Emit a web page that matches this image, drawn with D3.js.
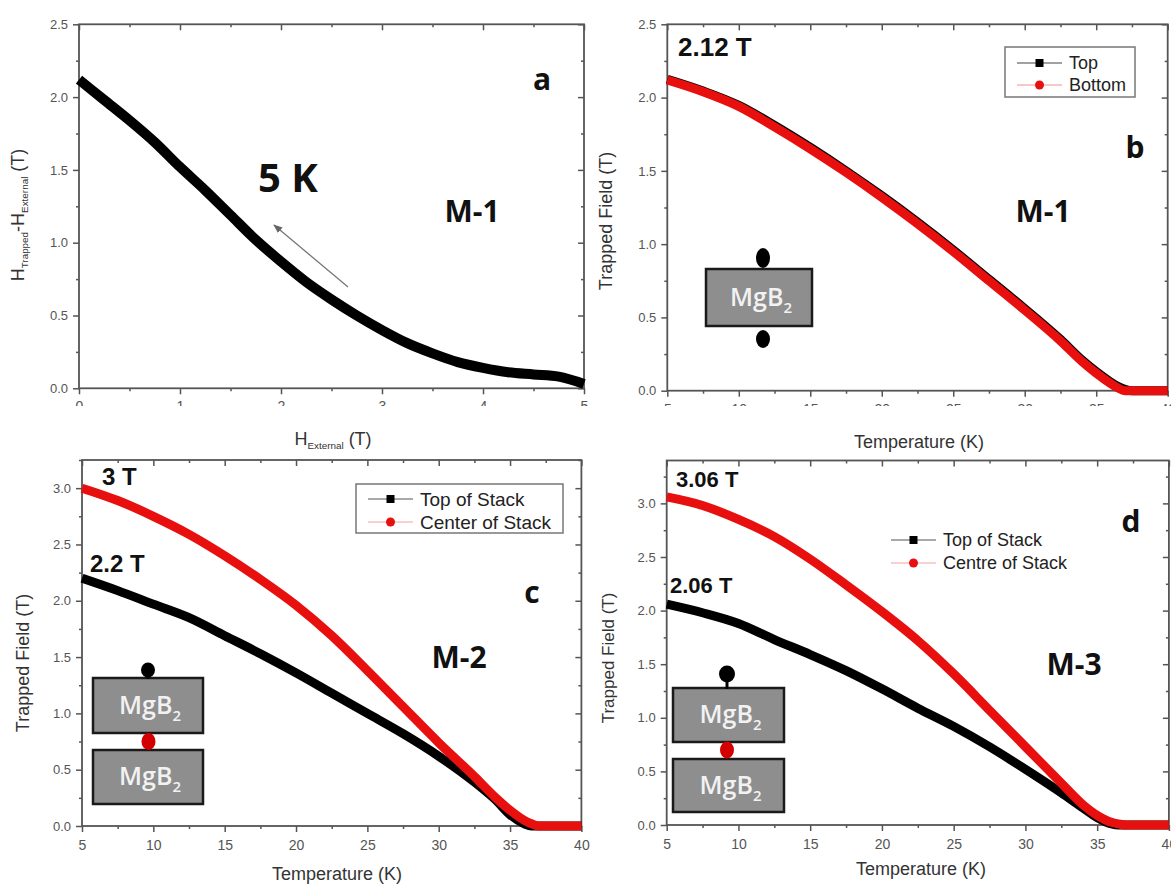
<!DOCTYPE html>
<html>
<head>
<meta charset="utf-8">
<script src="https://cdn.jsdelivr.net/npm/d3@7"></script>
<style>
  body { margin: 0; background: #fff; }
  svg { display: block; }
</style>
</head>
<body>
<svg id="fig" width="1171" height="885"></svg>
<script>
// ---------- data ----------
// (a) field difference vs. applied field at 5 K, sample M-1
const aField = [0, 0.25, 0.5, 0.75, 1, 1.25, 1.5, 1.75, 2, 2.25, 2.5, 2.75, 3, 3.25, 3.5, 3.75, 4, 4.25, 4.5, 4.75, 5];
const aDiff  = [2.12, 1.98, 1.84, 1.69, 1.52, 1.36, 1.19, 1.02, 0.87, 0.73, 0.61, 0.50, 0.40, 0.31, 0.24, 0.18, 0.14, 0.11, 0.095, 0.08, 0.03];

// (b) trapped field vs. temperature, M-1 (single bulk)
const bTemp   = [5, 7.5, 10, 12.5, 15, 17.5, 20, 22.5, 25, 27.5, 30, 32.5, 34, 35, 36, 36.5, 37, 37.5, 38, 40];
const bTop    = [2.125, 2.045, 1.947, 1.81, 1.66, 1.50, 1.33, 1.15, 0.96, 0.76, 0.56, 0.35, 0.21, 0.13, 0.06, 0.03, 0.01, 0, 0, 0];
const bBottom = [2.12, 2.04, 1.94, 1.80, 1.65, 1.49, 1.32, 1.14, 0.95, 0.75, 0.55, 0.34, 0.20, 0.12, 0.05, 0.02, 0, 0, 0, 0];

// (c) trapped field vs. temperature, M-2 (two-bulk stack)
const cTemp   = [5, 7.5, 10, 12.5, 15, 17.5, 20, 22.5, 25, 27.5, 30, 32.5, 34, 35, 36, 36.5, 37, 37.5, 40];
const cTop    = [2.2, 2.09, 1.97, 1.85, 1.69, 1.53, 1.36, 1.18, 1.00, 0.82, 0.62, 0.39, 0.23, 0.10, 0.02, 0, 0, 0, 0];
const cCenter = [3.0, 2.89, 2.75, 2.59, 2.40, 2.19, 1.96, 1.69, 1.38, 1.06, 0.74, 0.44, 0.25, 0.14, 0.05, 0.02, 0, 0, 0];

// (d) trapped field vs. temperature, M-3 (two-bulk stack)
const dTemp   = [5, 7.5, 10, 12.5, 15, 17.5, 20, 22.5, 25, 27.5, 30, 32.5, 34, 35, 36, 36.5, 37, 37.5, 40];
const dTop    = [2.06, 1.98, 1.88, 1.73, 1.59, 1.44, 1.27, 1.09, 0.92, 0.73, 0.52, 0.30, 0.16, 0.07, 0.01, 0, 0, 0, 0];
const dCentre = [3.06, 2.98, 2.85, 2.69, 2.48, 2.24, 1.99, 1.72, 1.41, 1.07, 0.73, 0.39, 0.19, 0.09, 0.025, 0.01, 0, 0, 0];

// tick values
const fieldMajor = [0, 1, 2, 3, 4, 5];
const fieldMinor = [0.5, 1.5, 2.5, 3.5, 4.5];
const tempMajor  = [5, 10, 15, 20, 25, 30, 35, 40];
const tempMinor  = [7.5, 12.5, 17.5, 22.5, 27.5, 32.5, 37.5];
const yMajorTop  = [0, 0.5, 1.0, 1.5, 2.0, 2.5];
const yMinorTop  = [0.25, 0.75, 1.25, 1.75, 2.25];
const yMajorBot  = [0, 0.5, 1.0, 1.5, 2.0, 2.5, 3.0];
const yMinorBot  = [0.25, 0.75, 1.25, 1.75, 2.25, 2.75, 3.25];

// ---------- drawing ----------
const W = 1171, H = 885;
const svg = d3.select('#fig');
svg.append('rect').attr('width', W).attr('height', H).attr('fill', '#fff');

const defs = svg.append('defs');
defs.append('clipPath').attr('id', 'topRowCut')
  .append('rect').attr('x', 0).attr('y', 0).attr('width', W).attr('height', 406);
defs.append('marker').attr('id', 'arrowHead')
  .attr('viewBox', '0 0 10 10').attr('refX', 9).attr('refY', 5)
  .attr('markerWidth', 7).attr('markerHeight', 7).attr('orient', 'auto')
  .append('path').attr('d', 'M0,1 L10,5 L0,9 z').attr('fill', '#666');

const AXIS = '#555';
const SANS = 'Liberation Sans, Arial, sans-serif';
const BOLD = 'Open Sans, sans-serif';

function styleAxis(sel) {
  sel.select('.domain').remove();
  sel.selectAll('line').attr('stroke', AXIS).attr('stroke-width', 1.5);
  sel.selectAll('text').attr('fill', '#555').attr('font-family', SANS).attr('font-size', 13);
}

function panel(o) {
  const x = d3.scaleLinear().domain(o.xDom).range(o.xr);
  const y = d3.scaleLinear().domain(o.yDom).range(o.yr);
  const g = svg.append('g');
  const [x0, x1] = o.xr, [yb, yt] = o.yr;

  // left axis: labelled, ticks outward
  g.append('g').attr('transform', `translate(${x0},0)`)
    .call(d3.axisLeft(y).tickValues(o.yMajor).tickSize(6).tickPadding(5).tickFormat(d3.format('.1f')))
    .call(styleAxis);
  g.append('g').attr('transform', `translate(${x0},0)`)
    .call(d3.axisLeft(y).tickValues(o.yMinor.filter(v => v <= o.yDom[1])).tickSize(3).tickFormat(''))
    .call(styleAxis);
  // right axis: ticks inward
  g.append('g').attr('transform', `translate(${x1},0)`)
    .call(d3.axisRight(y).tickValues(o.yMajor).tickSize(-6).tickFormat(''))
    .call(styleAxis);
  g.append('g').attr('transform', `translate(${x1},0)`)
    .call(d3.axisRight(y).tickValues(o.yMinor.filter(v => v <= o.yDom[1])).tickSize(-3).tickFormat(''))
    .call(styleAxis);
  // top axis: ticks inward
  g.append('g').attr('transform', `translate(0,${yt})`)
    .call(d3.axisTop(x).tickValues(o.xMajor).tickSize(-6).tickFormat(''))
    .call(styleAxis);
  g.append('g').attr('transform', `translate(0,${yt})`)
    .call(d3.axisTop(x).tickValues(o.xMinor).tickSize(-3).tickFormat(''))
    .call(styleAxis);
  // bottom axis: labelled, ticks outward
  const bottom = g.append('g');
  if (o.clip) bottom.attr('clip-path', 'url(#topRowCut)');
  bottom.append('g').attr('transform', `translate(0,${yb})`)
    .call(d3.axisBottom(x).tickValues(o.xMajor).tickSize(6).tickPadding(o.clip ? 7 : 8).tickFormat(d3.format('d')))
    .call(styleAxis)
    .selectAll('text').attr('font-size', 14);
  bottom.append('g').attr('transform', `translate(0,${yb})`)
    .call(d3.axisBottom(x).tickValues(o.xMinor).tickSize(3).tickFormat(''))
    .call(styleAxis);
  // frame
  g.append('rect').attr('x', x0).attr('y', yt).attr('width', x1 - x0).attr('height', yb - yt)
    .attr('fill', 'none').attr('stroke', AXIS).attr('stroke-width', 1.8);

  const plot = svg.append('g');
  return { x, y, g, plot };
}

function curve(p, xs, ys, color, width) {
  const line = d3.line().x(d => p.x(d[0])).y(d => p.y(d[1])).curve(d3.curveMonotoneX);
  p.plot.append('path').datum(d3.zip(xs, ys)).attr('d', line)
    .attr('fill', 'none').attr('stroke', color).attr('stroke-width', width)
    .attr('stroke-linejoin', 'round');
}

function label(x, y, txt, size, opts = {}) {
  return svg.append('text').attr('x', x).attr('y', y).text(txt)
    .attr('font-family', opts.family || BOLD).attr('font-weight', opts.weight || 700)
    .attr('font-size', size).attr('fill', opts.fill || '#111')
    .attr('text-anchor', opts.anchor || 'start');
}

function titleText(sel, parts, size) {
  parts.forEach(p => {
    if (p.sub) sel.append('tspan').attr('font-size', size * 0.55).attr('dy', 4).text(p.t);
    else sel.append('tspan').attr('dy', p.after ? -4 : 0).text(p.t);
  });
  return sel;
}

function yTitle(cx, cy, parts, size) {
  const t = svg.append('text').attr('transform', `translate(${cx},${cy}) rotate(-90)`)
    .attr('text-anchor', 'middle').attr('font-family', SANS).attr('font-size', size).attr('fill', '#333');
  return titleText(t, parts, size);
}

function xTitle(cx, cy, parts, size) {
  const t = svg.append('text').attr('x', cx).attr('y', cy)
    .attr('text-anchor', 'middle').attr('font-family', SANS).attr('font-size', size).attr('fill', '#333');
  return titleText(t, parts, size);
}

function chip(x0, y0, w, h) {
  svg.append('rect').attr('x', x0).attr('y', y0).attr('width', w).attr('height', h)
    .attr('fill', '#8e8e8e').attr('stroke', '#1a1a1a').attr('stroke-width', 2.5);
  const t = svg.append('text').attr('x', x0 + w / 2 + 2).attr('y', y0 + h / 2 + 8)
    .attr('text-anchor', 'middle').attr('font-family', BOLD).attr('font-weight', 600)
    .attr('font-size', 25).attr('fill', '#f2f2f2');
  t.append('tspan').text('MgB');
  t.append('tspan').attr('font-size', 15).attr('dy', 7).text('2');
}

function probe(cx, cy, rx, ry, color) {
  svg.append('ellipse').attr('cx', cx).attr('cy', cy).attr('rx', rx).attr('ry', ry).attr('fill', color);
}

function legend(x, y, rows, size, box) {
  const g = svg.append('g');
  if (box) {
    g.append('rect').attr('x', box[0]).attr('y', box[1]).attr('width', box[2]).attr('height', box[3])
      .attr('fill', '#fff').attr('stroke', '#777').attr('stroke-width', 1.5);
  }
  rows.forEach((r, i) => {
    const yy = y + i * r.gap;
    g.append('line').attr('x1', x).attr('x2', x + 45).attr('y1', yy).attr('y2', yy)
      .attr('stroke', r.line).attr('stroke-width', 1.2);
    if (r.shape === 'square') {
      g.append('rect').attr('x', x + 22.5 - 4).attr('y', yy - 4).attr('width', 8).attr('height', 8).attr('fill', r.color);
    } else {
      g.append('circle').attr('cx', x + 22.5).attr('cy', yy).attr('r', 4.5).attr('fill', r.color);
    }
    g.append('text').attr('x', x + 52).attr('y', yy).attr('dy', '0.35em').text(r.text)
      .attr('font-family', SANS).attr('font-size', size).attr('fill', '#222');
  });
}

const RED = '#e8100f';

// ---- panel a ----
const pa = panel({ xDom: [0, 5], yDom: [0, 2.5], xr: [79, 584], yr: [388.3, 24.3],
  xMajor: fieldMajor, xMinor: fieldMinor, yMajor: yMajorTop, yMinor: yMinorTop, clip: true });
curve(pa, aField, aDiff, '#000', 10);
yTitle(24, 215, [{ t: 'H' }, { t: 'Trapped', sub: true }, { t: '-H', after: true }, { t: 'External', sub: true }, { t: ' (T)', after: true }], 18);
xTitle(333, 445, [{ t: 'H' }, { t: 'External', sub: true }, { t: ' (T)', after: true }], 18);
label(542, 90, 'a', 30, { anchor: 'middle' });
label(288, 192, '5 K', 40, { anchor: 'middle' });
label(472, 222, 'M-1', 30, { anchor: 'middle' });
svg.append('line').attr('x1', 348).attr('y1', 287).attr('x2', 274).attr('y2', 225)
  .attr('stroke', '#777').attr('stroke-width', 1.3).attr('marker-end', 'url(#arrowHead)');

// ---- panel b ----
const pb = panel({ xDom: [5, 40], yDom: [0, 2.5], xr: [667.3, 1167.7], yr: [390.7, 24.3],
  xMajor: tempMajor, xMinor: tempMinor, yMajor: yMajorTop, yMinor: yMinorTop, clip: true });
curve(pb, bTemp, bTop, '#000', 9);
curve(pb, bTemp, bBottom, RED, 9);
yTitle(612, 221, [{ t: 'Trapped Field (T)' }], 18);
xTitle(919, 448, [{ t: 'Temperature (K)' }], 18);
label(678, 56, `${bBottom[0]} T`, 26, { family: SANS });
label(1135, 158, 'b', 30, { anchor: 'middle' });
label(1043, 222, 'M-1', 30, { anchor: 'middle' });
legend(1017, 63, [
  { text: 'Top', color: '#000', line: '#444', shape: 'square', gap: 22 },
  { text: 'Bottom', color: RED, line: '#f29090', shape: 'circle', gap: 22 }
], 18, [1005, 47, 130, 50]);
chip(706, 269, 106, 57);
probe(763, 258, 7, 10, '#000');
probe(763, 339, 7, 9, '#000');

// ---- panel c ----
const pc = panel({ xDom: [5, 40], yDom: [0, 3.25], xr: [82, 581.4], yr: [826, 460],
  xMajor: tempMajor, xMinor: tempMinor, yMajor: yMajorBot, yMinor: yMinorBot, clip: false });
curve(pc, cTemp, cTop, '#000', 9);
curve(pc, cTemp, cCenter, RED, 9);
yTitle(29, 663, [{ t: 'Trapped Field (T)' }], 18);
xTitle(337, 880, [{ t: 'Temperature (K)' }], 18);
label(102, 485, `${cCenter[0]} T`, 24, { family: SANS });
label(90, 572, `${cTop[0]} T`, 24, { family: SANS });
label(532, 603, 'c', 30, { anchor: 'middle' });
label(459, 668, 'M-2', 30, { anchor: 'middle' });
legend(368, 499, [
  { text: 'Top of Stack', color: '#000', line: '#555', shape: 'square', gap: 23 },
  { text: 'Center of Stack', color: RED, line: '#f4a0a0', shape: 'circle', gap: 23 }
], 19, [356, 484, 207, 49]);
chip(93, 678, 110, 55);
chip(93, 750, 110, 54);
probe(148, 670, 7, 7.5, '#000');
svg.append('line').attr('x1', 148).attr('x2', 148).attr('y1', 670).attr('y2', 679).attr('stroke', '#000').attr('stroke-width', 3);
probe(148.5, 741.5, 7, 8.5, '#d40000');

// ---- panel d ----
const pd = panel({ xDom: [5, 40], yDom: [0, 3.4], xr: [666.7, 1168.9], yr: [825, 460.5],
  xMajor: tempMajor, xMinor: tempMinor, yMajor: yMajorBot, yMinor: yMinorBot, clip: false });
curve(pd, dTemp, dTop, '#000', 9);
curve(pd, dTemp, dCentre, RED, 9);
yTitle(614, 658, [{ t: 'Trapped Field (T)' }], 17);
xTitle(921, 875, [{ t: 'Temperature (K)' }], 18);
label(676, 487, `${dCentre[0]} T`, 22, { family: SANS });
label(670, 593, `${dTop[0]} T`, 22, { family: SANS });
label(1131, 532, 'd', 30, { anchor: 'middle' });
label(1074, 675, 'M-3', 30, { anchor: 'middle' });
legend(891, 540, [
  { text: 'Top of Stack', color: '#000', line: '#555', shape: 'square', gap: 23 },
  { text: 'Centre of Stack', color: RED, line: '#f4a0a0', shape: 'circle', gap: 23 }
], 18, null);
chip(673, 688, 111, 54);
chip(673, 759, 111, 53);
probe(727, 674, 8, 8.5, '#000');
svg.append('line').attr('x1', 727).attr('x2', 727).attr('y1', 674).attr('y2', 689).attr('stroke', '#000').attr('stroke-width', 3);
probe(727, 750, 7, 8.5, '#d40000');
</script>
</body>
</html>
